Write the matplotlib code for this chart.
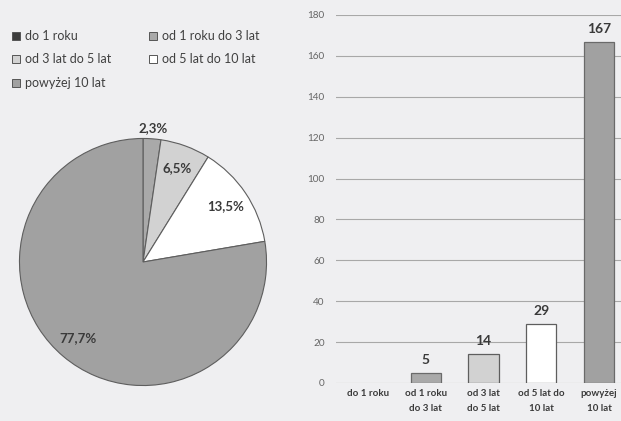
import matplotlib
matplotlib.use("Agg")
import matplotlib.pyplot as plt
from matplotlib.patches import Rectangle
import numpy as np

plt.rcParams['font.family'] = ['Lato', 'DejaVu Sans']

# Data
categories = ["do 1 roku", "od 1 roku do 3 lat", "od 3 lat do 5 lat",
              "od 5 lat do 10 lat", "powyżej 10 lat"]
bar_labels = ["do 1 roku", "od 1 roku\ndo 3 lat", "od 3 lat\ndo 5 lat",
              "od 5 lat do\n10 lat", "powyżej\n10 lat"]
counts = [0, 5, 14, 29, 167]
y_ticks = [0, 20, 40, 60, 80, 100, 120, 140, 160, 180]

colors = ["#3c3c3c", "#a9a9a9", "#d2d2d2", "#ffffff", "#a1a1a1"]
edge = "#5e5e5e"
bg = "#efeff1"
text_col = "#3a3a3a"

W, H = 621, 421
fig = plt.figure(figsize=(W / 100, H / 100), dpi=100, facecolor=bg)

def fx(px):
    return px / W

def fy(py):
    return 1 - py / H

# Legend (row-wise, two columns)
leg_pos = [(12, 36), (149, 36), (12, 59), (149, 59), (12, 83)]
for cat, col, (x, y) in zip(categories, colors, leg_pos):
    s = 8
    fig.add_artist(Rectangle((fx(x), fy(y + s / 2)), s / W, s / H,
                             transform=fig.transFigure, facecolor=col,
                             edgecolor="#555555", lw=0.7))
    fig.text(fx(x + 13), fy(y), cat, fontsize=9, color="#404040",
             va="center", ha="left")

# Pie chart
cx, cy, r = 143, 262, 126
axp = fig.add_axes([fx(cx - r), fy(cy + r), 2 * r / W, 2 * r / H])
axp.set_facecolor("none")
total = sum(counts)
wedges, _ = axp.pie(counts, colors=colors, startangle=90, counterclock=False,
                    radius=1.0,
                    wedgeprops=dict(edgecolor=edge, linewidth=0.8))
axp.set_xlim(-1.02, 1.02)
axp.set_ylim(-1.02, 1.02)
axp.set_aspect("equal")
axp.axis("off")

for w, c in zip(wedges, counts):
    if c == 0:
        continue
    pct = 100 * c / total
    mid = np.deg2rad((w.theta1 + w.theta2) / 2)
    rr = 1.09 if pct < 4 else 0.81
    axp.text(rr * np.cos(mid), rr * np.sin(mid),
             f"{pct:.1f}%".replace(".", ","), ha="center", va="center",
             fontsize=9.5, fontweight="bold", color=text_col, clip_on=False)

# Bar chart
x0, x1 = 336, 631
ytop, ybot = 15, 383
axb = fig.add_axes([fx(x0), fy(ybot), (x1 - x0) / W, (ybot - ytop) / H])
axb.set_facecolor("none")
xs = np.arange(len(counts))
edge_cols = ["#6a6a6a", "#6a6a6a", edge, edge, "#6a6a6a"]
widths = [0 if c == 0 else 0.9 for c in counts]
bars = axb.bar(xs, counts, width=0.52, color=colors,
               edgecolor=edge_cols, linewidth=widths, zorder=3)
axb.set_xlim(-0.55, len(counts) - 0.45)
axb.set_ylim(0, 180)
axb.set_yticks(y_ticks)
axb.grid(axis="y", color="#a8a8a8", linewidth=0.8, zorder=0)
axb.set_axisbelow(True)
for sp in axb.spines.values():
    sp.set_visible(False)
axb.tick_params(axis="both", length=0)
axb.tick_params(axis="y", labelsize=7.2, labelcolor="#666666", pad=8)
axb.set_xticks(xs)
axb.set_xticklabels(bar_labels, fontsize=7, color=text_col,
                    fontweight="bold", linespacing=1.9)
axb.tick_params(axis="x", pad=4)

for b, c in zip(bars, counts):
    if c == 0:
        continue
    axb.annotate(f"{c}", (b.get_x() + b.get_width() / 2, c),
                 xytext=(0, 5), textcoords="offset points",
                 ha="center", va="bottom", fontsize=10, fontweight="bold",
                 color=text_col)

fig.savefig("out.png", dpi=100, facecolor=bg)
